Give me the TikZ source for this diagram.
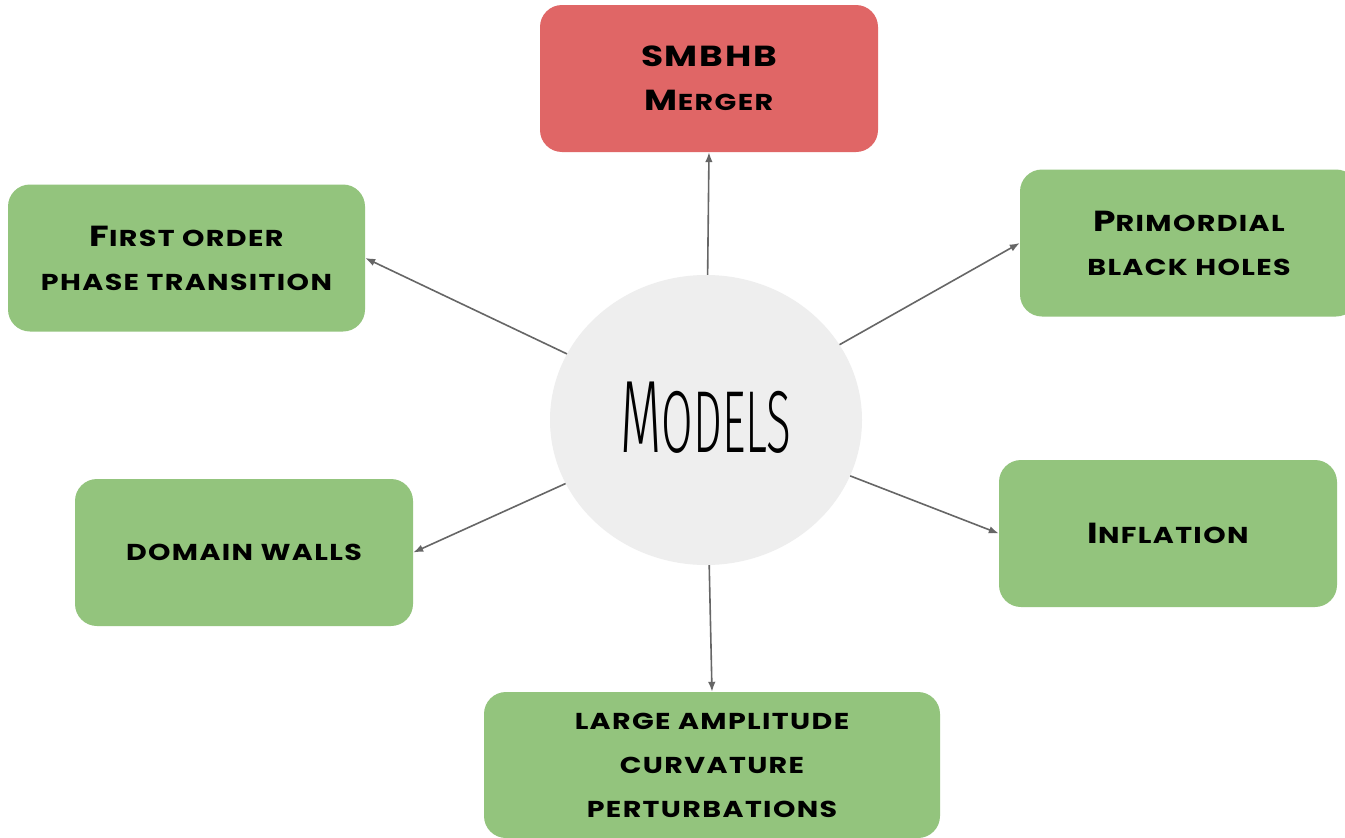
\documentclass[tikz,border=0pt]{standalone}
\usepackage{fontspec}
\usepackage{graphicx}
\setmainfont{Fira Sans}
\newfontfamily\markerfont{Poppins}[LetterSpace=6, FakeStretch=1.24]
\newfontfamily\thinfont{Fira Sans Light}
\usetikzlibrary{shapes.geometric,arrows.meta}
\definecolor{boxgreen}{HTML}{93C47D}
\definecolor{boxred}{HTML}{E06666}
\definecolor{hubgray}{HTML}{EEEEEE}
\definecolor{linkgray}{HTML}{666666}
% small capitals drawn as reduced upper-case letters
\newcommand\sm[1]{{\fontsize{23}{44}\selectfont #1}}
\tikzset{
  card/.style={rounded corners=22pt, minimum height=147pt, inner sep=0pt,
    align=center, text=black,
    font=\markerfont\bfseries\fontsize{29}{44}\selectfont},
  greencard/.style={card, fill=boxgreen},
  redcard/.style={card, fill=boxred},
  hub/.style={ellipse, fill=hubgray, minimum width=312pt, minimum height=290pt, inner sep=0pt},
  link/.style={draw=linkgray, line width=1.6pt, -{Latex[length=10pt,width=7.5pt]}}
}
\begin{document}
\begin{tikzpicture}[x=1pt,y=-1pt]
\useasboundingbox (0,0) rectangle (1345,838);
\clip (0,0) rectangle (1345,838);
\fill[white] (0,0) rectangle (1345,838);

\node[hub] (m) at (706,420) {};
\node at (706,418) {\scalebox{0.52}[1]{\thinfont\fontsize{103}{103}\selectfont M\fontsize{88}{103}\selectfont ODELS}};

\node[redcard, minimum width=338pt] (smbhb) at (709,78.5) {SMBHB\\M\sm{ERGER}};
\node[greencard, minimum width=357pt] (fo) at (186.5,258) {F\sm{IRST ORDER}\\\sm{PHASE TRANSITION}};
\node[greencard, minimum width=338pt] (pbh) at (1189,243) {P\sm{RIMORDIAL}\\\sm{BLACK HOLES}};
\node[greencard, minimum width=338pt] (inf) at (1168,533.5) {I\sm{NFLATION}};
\node[greencard, minimum width=338pt] (dw) at (244,552.5) {\sm{DOMAIN WALLS}};
\node[greencard, minimum width=456pt, minimum height=146pt] (la) at (712,765) {\sm{LARGE AMPLITUDE}\\\sm{CURVATURE}\\\sm{PERTURBATIONS}};

\draw[link] (m) -- (smbhb.south);
\draw[link] (m) -- (fo.east);
\draw[link] (m) -- (pbh.west);
\draw[link] (m) -- (inf.west);
\draw[link] (m) -- (dw.east);
\draw[link] (m) -- (la.north);
\end{tikzpicture}
\end{document}
